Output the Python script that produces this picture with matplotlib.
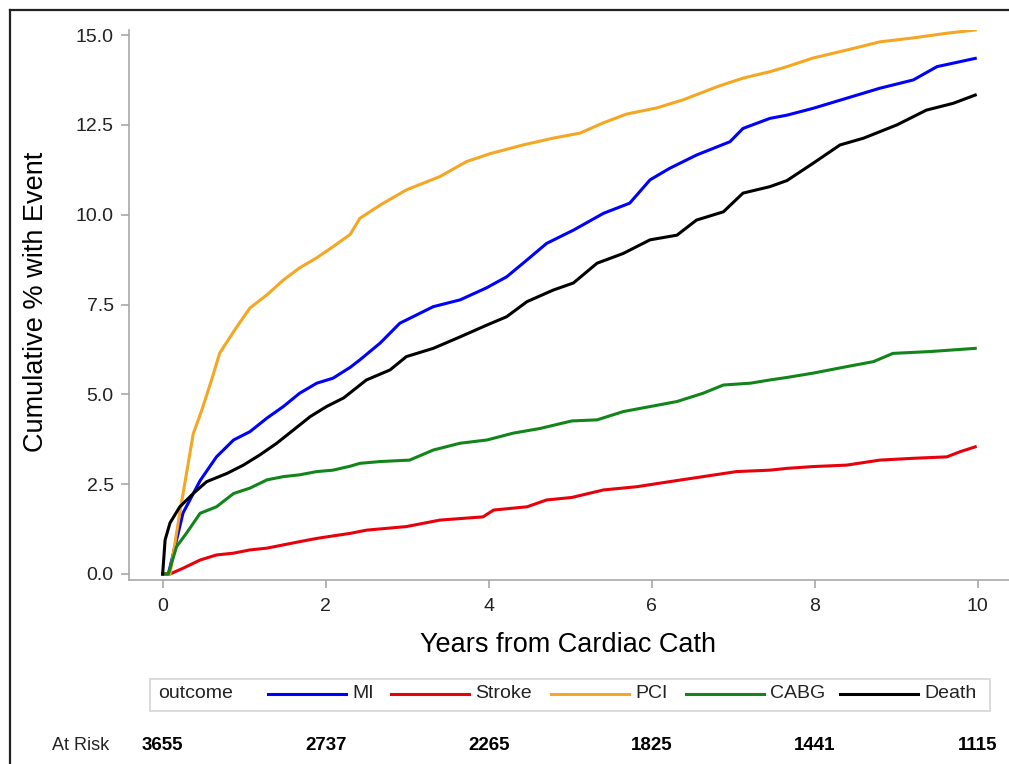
import matplotlib
matplotlib.use("Agg")
import matplotlib.pyplot as plt
import matplotlib.transforms as mtransforms
from matplotlib.lines import Line2D
from matplotlib.patches import Rectangle

plt.rcParams['font.family'] = ['Liberation Sans', 'DejaVu Sans']

# cumulative % with event
mi_t = [0, 0.07, 0.25, 0.46, 0.66, 0.87, 1.07, 1.28, 1.48, 1.68, 1.89, 2.09, 2.30, 2.42, 2.67, 2.91,
        3.32, 3.65, 3.97, 4.22, 4.47, 4.71, 5.04, 5.41, 5.73, 5.98, 6.22, 6.55, 6.96, 7.12, 7.45, 7.66,
        7.98, 8.39, 8.80, 9.21, 9.50, 9.97]
mi_v = [0, 0, 1.7, 2.6, 3.26, 3.73, 3.96, 4.34, 4.66, 5.03, 5.31, 5.45, 5.75, 5.96, 6.43, 6.98,
        7.44, 7.63, 7.96, 8.27, 8.74, 9.2, 9.57, 10.04, 10.32, 10.97, 11.29, 11.66, 12.03, 12.4, 12.68, 12.77,
        12.96, 13.24, 13.52, 13.75, 14.12, 14.35]

stroke_t = [0, 0.09, 0.25, 0.46, 0.66, 0.87, 1.07, 1.28, 1.48, 1.68, 1.89, 2.09, 2.30, 2.50, 2.99,
            3.40, 3.93, 4.06, 4.47, 4.71, 5.02, 5.41, 5.82, 6.22, 6.63, 7.04, 7.45, 7.66, 7.98, 8.39,
            8.80, 9.21, 9.62, 9.78, 9.97]
stroke_v = [0, 0, 0.16, 0.39, 0.53, 0.58, 0.67, 0.72, 0.81, 0.9, 0.99, 1.06, 1.13, 1.22, 1.32,
            1.5, 1.59, 1.78, 1.87, 2.06, 2.13, 2.34, 2.43, 2.57, 2.71, 2.85, 2.89, 2.94, 2.99, 3.03,
            3.17, 3.22, 3.26, 3.4, 3.54]

pci_t = [0, 0.09, 0.21, 0.375, 0.48, 0.6, 0.70, 0.91, 1.07, 1.28, 1.48, 1.68, 1.89, 2.09, 2.30, 2.42,
         2.67, 2.99, 3.40, 3.73, 4.02, 4.42, 4.79, 5.12, 5.40, 5.69, 6.06, 6.39, 6.80, 7.12, 7.45, 7.66,
         7.98, 8.39, 8.80, 9.21, 9.62, 9.97]
pci_v = [0, 0, 1.7, 3.9, 4.56, 5.4, 6.15, 6.88, 7.4, 7.77, 8.18, 8.52, 8.8, 9.11, 9.45, 9.9,
         10.27, 10.69, 11.06, 11.48, 11.7, 11.94, 12.13, 12.27, 12.55, 12.8, 12.97, 13.2, 13.56, 13.8, 13.98, 14.12,
         14.36, 14.58, 14.81, 14.92, 15.05, 15.14]

cabg_t = [0, 0.07, 0.17, 0.29, 0.46, 0.66, 0.87, 1.07, 1.28, 1.48, 1.68, 1.89, 2.09, 2.30, 2.42, 2.67,
          3.03, 3.32, 3.65, 3.98, 4.30, 4.63, 5.02, 5.33, 5.65, 5.98, 6.31, 6.63, 6.88, 7.21, 7.45, 7.66,
          7.98, 8.39, 8.72, 8.96, 9.41, 9.97]
cabg_v = [0, 0, 0.76, 1.13, 1.69, 1.87, 2.24, 2.39, 2.62, 2.71, 2.76, 2.85, 2.89, 3.0, 3.08, 3.13,
          3.17, 3.45, 3.64, 3.73, 3.92, 4.05, 4.26, 4.29, 4.52, 4.66, 4.8, 5.03, 5.26, 5.31, 5.4, 5.47,
          5.59, 5.77, 5.91, 6.14, 6.19, 6.28]

death_t = [0, 0.03, 0.09, 0.21, 0.38, 0.54, 0.79, 0.99, 1.19, 1.40, 1.60, 1.81, 2.01, 2.22, 2.50, 2.79,
           2.99, 3.32, 3.65, 3.98, 4.22, 4.47, 4.79, 5.04, 5.33, 5.65, 5.98, 6.31, 6.55, 6.88, 7.12, 7.45,
           7.66, 7.98, 8.31, 8.60, 9.01, 9.37, 9.70, 9.97]
death_v = [0, 0.95, 1.42, 1.87, 2.25, 2.57, 2.8, 3.03, 3.31, 3.64, 4.0, 4.38, 4.66, 4.9, 5.4, 5.68,
           6.05, 6.28, 6.6, 6.93, 7.16, 7.58, 7.9, 8.1, 8.65, 8.92, 9.3, 9.43, 9.85, 10.08, 10.6, 10.78,
           10.95, 11.43, 11.94, 12.13, 12.5, 12.91, 13.1, 13.33]

outcomes = ['MI', 'Stroke', 'PCI', 'CABG', 'Death']
colors = ['#0000ff', '#e8000b', '#f5a623', '#12851a', '#000000']
series = [(mi_t, mi_v), (stroke_t, stroke_v), (pci_t, pci_v), (cabg_t, cabg_v), (death_t, death_v)]

risk_years = [0, 2, 4, 6, 8, 10]
at_risk = [3655, 2737, 2265, 1825, 1441, 1115]

W, H = 1009, 764
fig = plt.figure(figsize=(W / 100, H / 100), dpi=100)


def fx(px):
    return px / W


def fy(py):
    return 1 - py / H


ax = fig.add_axes([fx(129), fy(580), fx(1009) - fx(129), fy(30) - fy(580)])

for (t, v), c in zip(series, colors):
    ax.plot(t, v, color=c, lw=2.2, solid_joinstyle='round')

ax.set_xlim(-0.413, 10.384)
ax.set_ylim(-0.167, 15.14)
ax.set_xticks(risk_years)
ax.set_yticks([0, 2.5, 5, 7.5, 10, 12.5, 15])
ax.set_yticklabels(['0.0', '2.5', '5.0', '7.5', '10.0', '12.5', '15.0'])
for s in ['top', 'right']:
    ax.spines[s].set_visible(False)
for s in ['left', 'bottom']:
    ax.spines[s].set_color('#a8a8a8')
    ax.spines[s].set_linewidth(1.2)
ax.tick_params(colors='#a8a8a8', labelcolor='#222222', labelsize=14, length=6, width=1.2)
ax.tick_params(axis='x', pad=7)
ax.tick_params(axis='y', pad=5)

fig.text(fx(568), fy(645), 'Years from Cardiac Cath', fontsize=19.5, ha='center', va='center')
fig.text(fx(36), fy(302), 'Cumulative % with Event', fontsize=19.5, ha='center', va='center',
         rotation=90)

# legend box
fig.add_artist(Rectangle((fx(150), fy(711)), fx(990) - fx(150), fy(679) - fy(711),
                         transform=fig.transFigure, fill=False, edgecolor='#d4d4d4', lw=1.2))
ly = fy(694)
fig.text(fx(158), ly, 'outcome', fontsize=14, ha='left', va='center', color='#222222')
starts = [268, 391, 551, 686, 840]
for x0, name, c in zip(starts, outcomes, colors):
    fig.add_artist(Line2D([fx(x0), fx(x0 + 78)], [ly, ly], transform=fig.transFigure, color=c, lw=2.2))
    fig.text(fx(x0 + 84), ly, name, fontsize=14, ha='left', va='center', color='#222222')

# at risk row
fig.text(fx(52), fy(746), 'At Risk', fontsize=13, ha='left', va='center', color='#222222')
risk_tr = mtransforms.blended_transform_factory(ax.transData, fig.transFigure)
for yr, n in zip(risk_years, at_risk):
    ax.text(yr, fy(746), str(n), transform=risk_tr,
            fontsize=13.5, fontweight='bold', ha='center', va='center')

# outer frame (top and left edges visible)
fig.add_artist(Line2D([fx(10), 1], [fy(10), fy(10)], transform=fig.transFigure, color='#222222', lw=1.6))
fig.add_artist(Line2D([fx(10), fx(10)], [0, fy(10)], transform=fig.transFigure, color='#222222', lw=1.6))

fig.savefig('out.png', dpi=100)
